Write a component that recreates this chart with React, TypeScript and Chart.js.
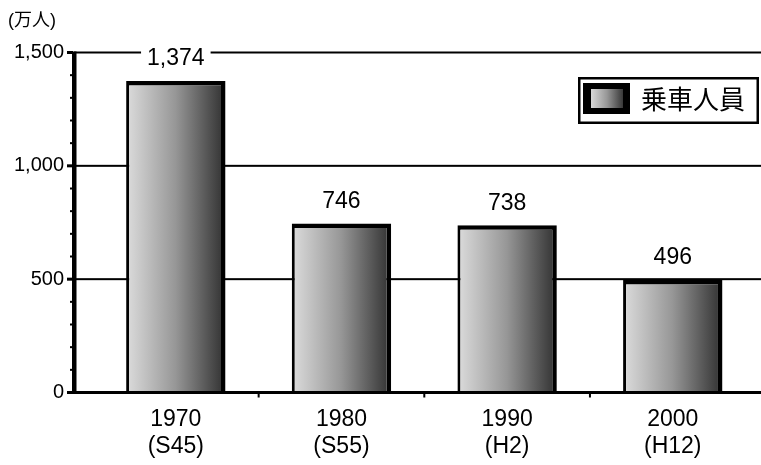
import React, { useEffect, useRef } from 'react';
import { Chart, registerables } from 'chart.js';

Chart.register(...registerables);

// ---- data ----
const categories: string[][] = [
  ['1970', '(S45)'],
  ['1980', '(S55)'],
  ['1990', '(H2)'],
  ['2000', '(H12)'],
];
const riders: number[] = [1374, 746, 738, 496];
const seriesName = '乗車人員';
const unitLabel = '(万人)';
const yMin = 0;
const yMax = 1500;
const yStep = 500;
const yMinorStep = 100;

const LATIN = '"Liberation Sans", Arial, sans-serif';
const CJK = '"Liberation Sans", "Noto Sans CJK JP", sans-serif';
const AXIS_X = 72; // left edge of the y axis line
const W = 761;
const H = 465;

function fmt(v: number): string {
  return v.toLocaleString('en-US');
}

function barGradient(c: CanvasRenderingContext2D, x0: number, x1: number) {
  const g = c.createLinearGradient(x0, 0, x1, 0);
  g.addColorStop(0, '#d8d8d8');
  g.addColorStop(0.5, '#979797');
  g.addColorStop(1, '#383838');
  return g;
}

const decor = {
  id: 'decor',
  beforeDatasetsDraw(chart: any) {
    const { ctx, scales } = chart;
    const y = scales.y;
    ctx.save();
    ctx.fillStyle = '#000';
    for (let v = yMin + yStep; v <= yMax; v += yStep) {
      const py = y.getPixelForValue(v);
      ctx.fillRect(AXIS_X + 2, py - 1, W - AXIS_X, 2);
    }
    ctx.restore();
  },
  afterDatasetsDraw(chart: any) {
    const { ctx, scales } = chart;
    const x = scales.x;
    const y = scales.y;
    const yTop = y.getPixelForValue(yMax);
    const yBot = y.getPixelForValue(yMin);
    ctx.save();
    ctx.fillStyle = '#000';
    // y axis line
    ctx.fillRect(AXIS_X, yTop - 1, 4.5, yBot - yTop + 2.5);
    // x axis line
    ctx.fillRect(AXIS_X, yBot - 1.5, W - AXIS_X, 3);
    // y ticks
    for (let v = yMin; v <= yMax; v += yMinorStep) {
      const py = y.getPixelForValue(v);
      if ((v - yMin) % yStep === 0) {
        ctx.fillRect(AXIS_X - 5, py - 1.5, 6, 3);
      } else {
        ctx.fillRect(AXIS_X - 2, py - 1, 3, 2);
      }
    }
    // x tick marks between categories
    for (let i = 0; i < categories.length - 1; i++) {
      const px = (x.getPixelForValue(i) + x.getPixelForValue(i + 1)) / 2;
      ctx.fillRect(px - 1, yBot, 2, 5);
    }
    // value labels
    const meta = chart.getDatasetMeta(0);
    ctx.font = `23px ${LATIN}`;
    ctx.textAlign = 'center';
    ctx.textBaseline = 'middle';
    meta.data.forEach((el: any, i: number) => {
      const txt = fmt(riders[i]);
      const tw = ctx.measureText(txt).width;
      const cy = el.y - 23;
      ctx.fillStyle = '#fff';
      ctx.fillRect(el.x - tw / 2 - 6, cy - 13, tw + 12, 26);
      ctx.fillStyle = '#000';
      ctx.fillText(txt, el.x, cy + 1);
    });
    // unit label
    ctx.font = `18px ${CJK}`;
    ctx.textAlign = 'left';
    ctx.fillText(unitLabel, 8, 21);
    // legend box
    const lx = 578, ly = 77, lw = 181, lh = 47;
    ctx.fillStyle = '#fff';
    ctx.fillRect(lx, ly, lw, lh);
    ctx.strokeStyle = '#000';
    ctx.lineWidth = 2.5;
    ctx.strokeRect(lx + 1.25, ly + 1.25, lw - 2.5, lh - 2.5);
    // swatch
    ctx.fillStyle = '#000';
    ctx.fillRect(583, 83, 47, 31);
    ctx.fillStyle = barGradient(ctx, 591, 623);
    ctx.fillRect(591, 89, 32, 19);
    // legend text
    ctx.fillStyle = '#000';
    ctx.font = `26px ${CJK}`;
    ctx.textAlign = 'left';
    ctx.textBaseline = 'middle';
    ctx.fillText(seriesName, 641, 102);
    ctx.restore();
  },
};

export default function App() {
  const ref = useRef<HTMLCanvasElement | null>(null);
  useEffect(() => {
    if (!ref.current) return;
    const barPct = 0.6;
    const chart = new Chart(ref.current, {
      type: 'bar',
      data: {
        labels: categories as any,
        datasets: [
          {
            label: seriesName,
            data: riders,
            backgroundColor: (c: any) => {
              const ch = c.chart;
              const area = ch.chartArea;
              if (!area || c.dataIndex === undefined) return '#999';
              const cx = ch.scales.x.getPixelForValue(c.dataIndex);
              const half = ((area.right - area.left) / categories.length) * barPct / 2;
              return barGradient(ch.ctx, cx - half + 3, cx + half - 4);
            },
            borderColor: '#000',
            borderWidth: { top: 4.5, left: 3, right: 4.5, bottom: 0 } as any,
            borderSkipped: false as any,
            barPercentage: barPct,
            categoryPercentage: 1,
          },
        ],
      },
      options: {
        responsive: false,
        maintainAspectRatio: false,
        animation: false,
        devicePixelRatio: 1,
        layout: { padding: { top: 52.5, right: 5.4, bottom: 0, left: 0 } },
        plugins: {
          legend: { display: false },
          tooltip: { enabled: false },
        },
        scales: {
          x: {
            offset: true,
            grid: { display: false, drawTicks: false },
            border: { display: false },
            ticks: {
              color: '#000',
              font: { family: LATIN, size: 23, lineHeight: 1.15 },
              padding: 14,
              maxRotation: 0,
              autoSkip: false,
            },
            afterFit: (s: any) => {
              s.height = 72.5;
            },
          },
          y: {
            min: yMin,
            max: yMax,
            grid: { display: false, drawTicks: false },
            border: { display: false },
            ticks: {
              stepSize: yStep,
              color: '#000',
              font: { family: LATIN, size: 20 },
              padding: 29,
              callback: (v: any) => fmt(Number(v)),
            },
            afterFit: (s: any) => {
              s.width = 93;
            },
          },
        },
      },
      plugins: [decor],
    });
    return () => chart.destroy();
  }, []);
  return (
    <div style={{ position: 'fixed', left: 0, top: 0, width: W, height: H, background: '#fff' }}>
      <canvas ref={ref} width={W} height={H} style={{ width: W, height: H, display: 'block' }} />
    </div>
  );
}
